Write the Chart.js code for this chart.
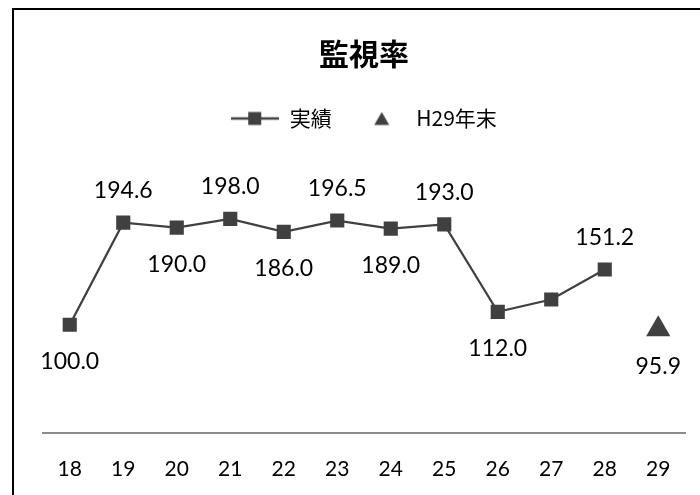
<!DOCTYPE html>
<html>
<head>
<meta charset="utf-8">
<script src="https://cdn.jsdelivr.net/npm/chart.js@4/dist/chart.umd.min.js"></script>
<style>
    body { margin: 0; background: #fff; }
    #moldura { position: absolute; left: 12px; top: 8px; width: 720px; height: 520px; border: 2px solid #000; }
    #area_grafico { position: absolute; left: 0; top: 0; width: 700px; height: 495px; }
</style>
</head>
<body>
<div id="moldura"></div>
<div id="area_grafico"><canvas id="grafico"></canvas></div>
<script>
// dados do gráfico
var anos = ['18', '19', '20', '21', '22', '23', '24', '25', '26', '27', '28', '29'];
var realizado = [100.0, 194.6, 190.0, 198.0, 186.0, 196.5, 189.0, 193.0, 112.0, 123.4, 151.2, null];
var fimH29 = [null, null, null, null, null, null, null, null, null, null, null, 95.9];
var mostrarRotulo = [true, true, true, true, true, true, true, true, true, false, true, true];

var corLinha = '#404040';
var fonteNum = 'Lato, "Noto Sans", sans-serif';
var fonteJp = '"Noto Sans CJK JP", sans-serif';

// posição dos rótulos (acima / abaixo)
var posRotulo = ['baixo', 'cima', 'baixo', 'cima', 'baixo', 'cima', 'baixo', 'cima', 'baixo', 'baixo', 'cima', 'baixo'];

// ícone da legenda: linha com quadrado
var icone = document.createElement('canvas');
icone.width = 48;
icone.height = 16;
var ctxIcone = icone.getContext('2d');
ctxIcone.strokeStyle = corLinha;
ctxIcone.lineWidth = 2.5;
ctxIcone.beginPath();
ctxIcone.moveTo(0, 8);
ctxIcone.lineTo(48, 8);
ctxIcone.stroke();
ctxIcone.fillStyle = corLinha;
ctxIcone.fillRect(17, 1.5, 13, 13);

// ícone da legenda: triângulo pequeno
var iconeTri = document.createElement('canvas');
iconeTri.width = 48;
iconeTri.height = 16;
var ctxTri = iconeTri.getContext('2d');
ctxTri.fillStyle = corLinha;
ctxTri.beginPath();
ctxTri.moveTo(24, 1.5);
ctxTri.lineTo(31.5, 14.5);
ctxTri.lineTo(16.5, 14.5);
ctxTri.closePath();
ctxTri.fill();

var rotulos = {
    id: 'rotulos',
    afterDatasetsDraw: function (chart) {
        var ctx = chart.ctx;
        ctx.save();
        ctx.font = '23px ' + fonteNum;
        ctx.fillStyle = '#000';
        ctx.textAlign = 'center';
        ctx.textBaseline = 'middle';
        chart.data.datasets.forEach(function (ds, d) {
            var meta = chart.getDatasetMeta(d);
            meta.data.forEach(function (pt, i) {
                var v = ds.data[i];
                if (v == null || !mostrarRotulo[i]) return;
                var y = posRotulo[i] == 'cima' ? pt.y - 32 : pt.y + 37;
                ctx.fillText(v.toFixed(1), pt.x, y);
            });
        });
        ctx.restore();
    }
};

var config = {
    type: 'line',
    data: {
        labels: anos,
        datasets: [{
            label: '実績',
            data: realizado,
            borderColor: corLinha,
            backgroundColor: corLinha,
            borderWidth: 2.25,
            pointStyle: 'rect',
            pointRadius: 10,
            pointBorderWidth: 0,
            spanGaps: false
        }, {
            label: 'H29年末',
            data: fimH29,
            showLine: false,
            borderColor: corLinha,
            backgroundColor: corLinha,
            pointStyle: 'triangle',
            pointRadius: 14,
            pointBorderWidth: 0
        }]
    },
    options: {
        responsive: true,
        maintainAspectRatio: false,
        animation: false,
        layout: { padding: { left: 43, right: 15, top: 28, bottom: -11 } },
        plugins: {
            tooltip: { enabled: false },
            title: {
                display: true,
                text: '監視率',
                color: '#000',
                font: { family: fonteJp, size: 30, weight: 'bold' },
                padding: { top: 8, bottom: 10 }
            },
            legend: {
                display: true,
                labels: {
                    usePointStyle: true,
                    pointStyleWidth: 48,
                    padding: 26,
                    color: '#000',
                    font: { family: fonteJp, size: 21 },
                    generateLabels: function (chart) {
                        return [{
                            text: '実績', pointStyle: icone, fillStyle: corLinha, strokeStyle: corLinha,
                            lineWidth: 0, datasetIndex: 0, fontColor: '#000'
                        }, {
                            text: 'H29年末', pointStyle: iconeTri, fillStyle: corLinha, strokeStyle: corLinha,
                            lineWidth: 0, datasetIndex: 1, fontColor: '#000'
                        }];
                    }
                }
            }
        },
        scales: {
            x: {
                offset: true,
                grid: { display: false, drawTicks: false },
                border: { display: true, color: '#8c8c8c', width: 2 },
                ticks: { color: '#000', padding: 24, font: { family: fonteNum, size: 21 } }
            },
            y: {
                display: false,
                min: 0,
                max: 272
            }
        }
    },
    plugins: [rotulos]
};

window.grafico = new Chart(document.getElementById('grafico').getContext('2d'), config);
</script>
</body>
</html>
